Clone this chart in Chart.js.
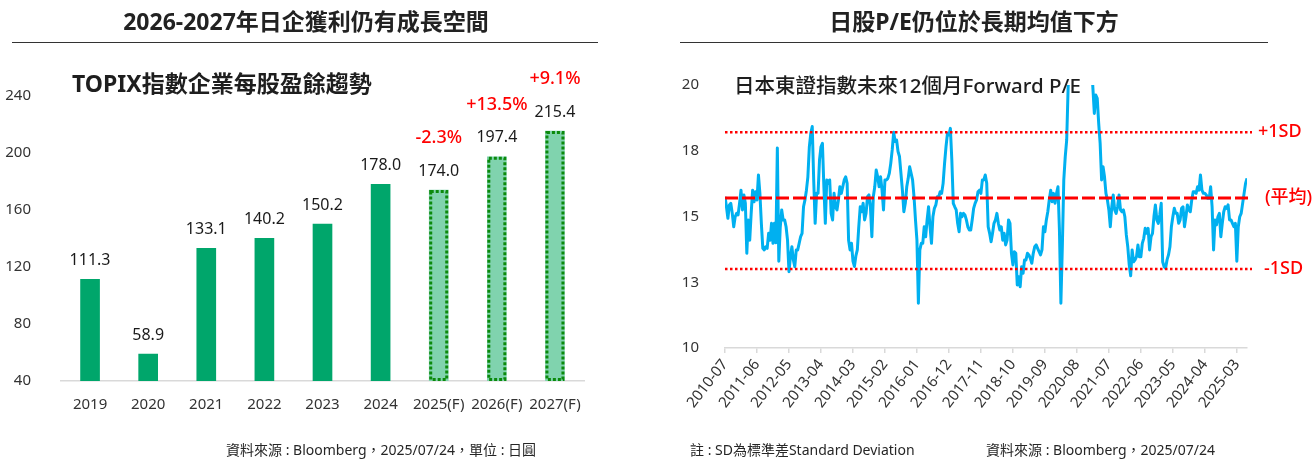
<!DOCTYPE html>
<html>
<head>
<meta charset="utf-8">
<script src="https://cdn.jsdelivr.net/npm/chart.js@4.4.1/dist/chart.umd.min.js"></script>
<style>
html, body { margin: 0; padding: 0; background: #fff; }
body { width: 1312px; height: 460px; position: relative; overflow: hidden;
       font-family: 'Noto Sans', 'Noto Sans CJK TC', sans-serif; color: #262626; }
canvas { position: absolute; top: 0; }
.txt { position: absolute; white-space: nowrap; }
.title { top: 7px; font-size: 23px; font-weight: bold; line-height: 28px; transform: translateX(-50%); color: #222; }
.rule { position: absolute; top: 42px; height: 0; border-top: 1.5px solid #333; }
.sub { top: 72px; font-size: 20px; font-weight: 500; line-height: 26px; color: #1e1e1e; }
.foot { top: 440px; font-size: 14px; line-height: 20px; color: #262626; }
</style>
</head>
<body>
<canvas id="epsChart" width="640" height="460" style="left:0"></canvas>
<canvas id="peChart" width="672" height="460" style="left:640px"></canvas>

<div class="txt title" style="left:306px">2026-2027年日企獲利仍有成長空間</div>
<div class="rule" style="left:12px;width:586px"></div>
<div class="txt sub" style="left:72px;font-size:23px;font-weight:bold;top:70px">TOPIX指數企業每股盈餘趨勢</div>
<div class="txt foot" style="left:226px">資料來源 : Bloomberg，2025/07/24，單位 : 日圓</div>

<div class="txt title" style="left:974px">日股P/E仍位於長期均值下方</div>
<div class="rule" style="left:680px;width:588px"></div>
<div class="txt sub" style="left:734px;font-size:20.5px">日本東證指數未來12個月Forward P/E</div>
<div class="txt foot" style="left:690px">註 : SD為標準差Standard Deviation</div>
<div class="txt foot" style="left:986px">資料來源 : Bloomberg，2025/07/24</div>

<script>
// ---- left chart: TOPIX EPS ----
const years = ['2019', '2020', '2021', '2022', '2023', '2024', '2025(F)', '2026(F)', '2027(F)'];
const eps = [111.3, 58.9, 133.1, 140.2, 150.2, 178.0, 174.0, 197.4, 215.4];
const epsGrowth = ['', '', '', '', '', '', '-2.3%', '+13.5%', '+9.1%'];
const epsForecast = [false, false, false, false, false, false, true, true, true];
const epsTicks = [40, 80, 120, 160, 200, 240];

// ---- right chart: TOPIX 12M forward P/E, two readings per month from 2010-07 ----
const peValues = [
  15.75, 15.37, 14.93, 15.44, 15.5, 15.12, 14.61, 14.99, 15.12, 15.06, 15.5, 16.0,
  15.25, 15.82, 15.5, 13.6, 14.87, 14.1, 15.12, 16.0, 15.56, 15.94, 15.63, 16.58,
  15.88, 14.74, 13.79, 13.73, 13.85, 13.79, 14.36, 14.1, 14.74, 13.98, 14.74, 14.0,
  17.6, 13.3, 14.6, 15.25, 14.87, 14.87, 14.61, 14.1, 12.9, 13.47, 13.85, 13.35,
  13.09, 13.73, 13.73, 13.98, 14.23, 14.36, 15.37, 15.63, 16.0, 16.51, 17.65, 18.16,
  18.42, 16.39, 14.74, 15.88, 15.88, 17.15, 17.65, 17.78, 16.13, 14.74, 16.39, 16.26,
  16.39, 15.12, 14.87, 15.88, 15.37, 15.25, 15.63, 16.13, 15.88, 16.13, 16.39, 16.51,
  16.26, 14.1, 13.73, 13.98, 13.3, 13.1, 13.5, 13.73, 14.61, 15.37, 15.18, 15.5,
  14.87, 15.12, 15.75, 15.82, 15.37, 14.23, 15.75, 16.13, 16.77, 16.51, 16.13, 16.51,
  16.0, 15.25, 16.39, 16.39, 16.45, 16.64, 17.02, 17.53, 18.2, 17.85, 17.91, 17.47,
  17.28, 16.64, 16.0, 15.18, 15.5, 16.13, 16.45, 16.89, 16.64, 16.39, 15.75, 14.87,
  14.1, 11.7, 13.73, 13.98, 13.98, 14.61, 14.23, 14.87, 15.37, 14.61, 13.98, 14.99,
  15.31, 15.44, 15.75, 15.75, 15.94, 15.88, 16.26, 17.02, 17.66, 18.16, 18.1, 18.35,
  17.15, 15.5, 15.37, 15.25, 14.74, 14.42, 15.12, 14.99, 15.12, 15.06, 14.87, 14.61,
  14.49, 14.49, 14.87, 15.31, 15.5, 15.63, 15.94, 16.0, 15.88, 16.39, 16.39, 16.58,
  16.26, 14.61, 14.36, 14.04, 14.36, 14.74, 14.87, 15.12, 14.74, 14.49, 14.61, 14.1,
  14.36, 13.92, 14.1, 14.87, 14.74, 13.6, 13.16, 13.66, 13.6, 12.4, 12.71, 12.33,
  13.09, 12.84, 13.35, 13.35, 13.6, 13.54, 13.41, 13.22, 13.6, 13.85, 13.92, 13.79,
  13.66, 13.54, 13.73, 14.61, 14.42, 14.87, 15.18, 15.63, 16.0, 15.56, 15.88, 15.5,
  15.88, 16.13, 14.49, 11.7, 13.85, 16.39, 17.28, 17.91, 19.94, 20.6, 21.3, 21.8,
  22.3, 21.6, 22.0, 21.2, 21.7, 22.6, 22.1, 21.4, 21.0, 20.7, 21.2, 20.4,
  20.9, 19.9, 18.92, 19.62, 19.49, 18.54, 17.78, 16.39, 16.89, 16.51, 15.88, 15.63,
  15.25, 14.61, 15.37, 15.82, 15.25, 15.12, 15.37, 15.82, 15.25, 15.18, 15.25, 14.99,
  14.3, 13.85, 13.16, 12.75, 13.73, 13.28, 13.35, 13.47, 13.92, 13.47, 13.47, 13.98,
  14.17, 14.55, 14.36, 14.55, 13.73, 14.23, 14.36, 14.99, 15.44, 14.87, 14.74, 15.06,
  15.5, 13.28, 13.09, 13.03, 13.35, 13.54, 13.85, 14.61, 14.99, 15.31, 15.12, 15.12,
  14.74, 14.87, 15.31, 15.37, 14.61, 14.99, 15.44, 15.25, 15.18, 15.63, 15.94, 15.94,
  15.88, 16.13, 16.0, 16.58, 16.0, 15.88, 15.88, 15.82, 15.69, 15.69, 16.13, 15.37,
  13.73, 14.87, 14.68, 14.99, 15.12, 14.23, 14.74, 15.18, 15.37, 15.31, 15.44, 14.87,
  14.87, 14.74, 14.61, 14.74, 13.3, 14.61, 14.99, 15.12, 15.5, 15.88, 16.26, 16.45
];
const peTickLabels = ['2010-07', '2011-06', '2012-05', '2013-04', '2014-03', '2015-02',
  '2016-01', '2016-12', '2017-11', '2018-10', '2019-09', '2020-08', '2021-07',
  '2022-06', '2023-05', '2024-04', '2025-03'];
const peYTicks = [10, 12.5, 15, 17.5, 20];
const peYLabels = ['10', '13', '15', '18', '20'];
const peMean = 15.7;
const pePlus1SD = 18.2;
const peMinus1SD = 13.0;

const FONT = "'Noto Sans', 'Noto Sans CJK TC', sans-serif";
Chart.defaults.font.family = FONT;
Chart.defaults.color = '#333';

const GREEN = '#00A66B';
const LIGHT_GREEN = '#80D3AE';
const DOT_GREEN = '#0C8A0C';
const BLUE = '#00B0F0';
const RED = '#FF0000';

// value labels, growth labels and the dotted outline of forecast bars
const barLabels = {
  id: 'barLabels',
  afterDatasetsDraw(chart) {
    const ctx = chart.ctx;
    const bottom = chart.chartArea.bottom;
    const meta = chart.getDatasetMeta(0);
    ctx.save();
    meta.data.forEach((bar, i) => {
      if (epsForecast[i]) {
        const w = bar.width;
        const base = Math.min(bar.base, bottom);
        ctx.setLineDash([3, 2]);
        ctx.lineWidth = 3;
        ctx.strokeStyle = DOT_GREEN;
        ctx.strokeRect(bar.x - w / 2 + 1.5, bar.y + 1.5, w - 3, base - bar.y - 3);
        ctx.setLineDash([]);
      }
      ctx.textAlign = 'center';
      ctx.textBaseline = 'middle';
      ctx.fillStyle = '#1a1a1a';
      ctx.font = '16px ' + FONT;
      ctx.fillText(eps[i].toFixed(1), bar.x, bar.y - 19);
      if (epsGrowth[i]) {
        ctx.fillStyle = RED;
        ctx.font = '500 18px ' + FONT;
        ctx.fillText(epsGrowth[i], bar.x, bar.y - 52);
      }
    });
    ctx.restore();
  }
};

new Chart(document.getElementById('epsChart'), {
  type: 'bar',
  data: {
    labels: years,
    datasets: [{
      data: eps,
      backgroundColor: epsForecast.map(f => f ? LIGHT_GREEN : GREEN),
      borderWidth: 0,
      barThickness: 19
    }]
  },
  options: {
    responsive: false,
    animation: false,
    devicePixelRatio: 1,
    layout: { padding: { left: 0, top: 96, right: 56, bottom: 39 } },
    plugins: { legend: { display: false }, tooltip: { enabled: false } },
    scales: {
      x: {
        grid: { display: false },
        border: { display: true, color: '#d9d9d9', width: 1.5 },
        ticks: { color: '#333', font: { size: 15 }, padding: 7, maxRotation: 0, autoSkip: false },
        afterFit(s) { s.height = 40; }
      },
      y: {
        min: 40, max: 240,
        grid: { display: false },
        border: { display: false },
        afterBuildTicks(s) { s.ticks = epsTicks.map(v => ({ value: v })); },
        ticks: { color: '#333', font: { size: 15 }, padding: 22 },
        afterFit(s) { s.width = 61; }
      }
    }
  },
  plugins: [barLabels]
});

// mean and +/-1SD reference lines with their labels
const bandLines = {
  id: 'bandLines',
  afterDatasetsDraw(chart) {
    const { ctx, chartArea: a, scales: { y } } = chart;
    const lines = [
      { v: pePlus1SD, dash: [2.5, 2.5], w: 2.5, text: '+1SD', dx: 11 },
      { v: peMean, dash: [13, 4], w: 3, text: '(平均)', dx: 18 },
      { v: peMinus1SD, dash: [2.5, 2.5], w: 2.5, text: '-1SD', dx: 17 }
    ];
    ctx.save();
    lines.forEach(l => {
      const py = y.getPixelForValue(l.v);
      ctx.beginPath();
      ctx.setLineDash(l.dash);
      ctx.lineWidth = l.w;
      ctx.strokeStyle = RED;
      ctx.moveTo(a.left, py);
      ctx.lineTo(a.right + 5, py);
      ctx.stroke();
      ctx.setLineDash([]);
      ctx.fillStyle = RED;
      ctx.font = '500 18px ' + FONT;
      ctx.textAlign = 'left';
      ctx.textBaseline = 'middle';
      ctx.fillText(l.text, a.right + l.dx, py);
    });
    ctx.restore();
  }
};

new Chart(document.getElementById('peChart'), {
  type: 'line',
  data: {
    datasets: [{
      data: peValues.map((v, k) => ({ x: k / 2, y: v })),
      borderColor: BLUE,
      borderWidth: 3,
      pointRadius: 0,
      tension: 0,
      borderJoinStyle: 'round'
    }]
  },
  options: {
    responsive: false,
    animation: false,
    devicePixelRatio: 1,
    layout: { padding: { left: 0, top: 85, right: 65, bottom: 42 } },
    plugins: { legend: { display: false }, tooltip: { enabled: false } },
    scales: {
      x: {
        type: 'linear',
        min: 0, max: 179.5,
        grid: { display: true, drawOnChartArea: false, drawTicks: true, tickLength: 5, color: '#d9d9d9', lineWidth: 1.5 },
        border: { display: true, color: '#d9d9d9', width: 1.5 },
        afterBuildTicks(s) { s.ticks = peTickLabels.map((_, i) => ({ value: i * 11 })); },
        ticks: {
          color: '#333', font: { size: 15 }, padding: 3,
          autoSkip: false, minRotation: 52, maxRotation: 52,
          callback: (v, i) => peTickLabels[i]
        },
        afterFit(s) { s.height = 70; }
      },
      y: {
        min: 10, max: 20,
        grid: { display: false },
        border: { display: false },
        afterBuildTicks(s) { s.ticks = peYTicks.map(v => ({ value: v })); },
        ticks: { color: '#333', font: { size: 15 }, padding: 18, callback: (v, i) => peYLabels[i] },
        afterFit(s) { s.width = 85; }
      }
    }
  },
  plugins: [bandLines]
});
</script>
</body>
</html>
